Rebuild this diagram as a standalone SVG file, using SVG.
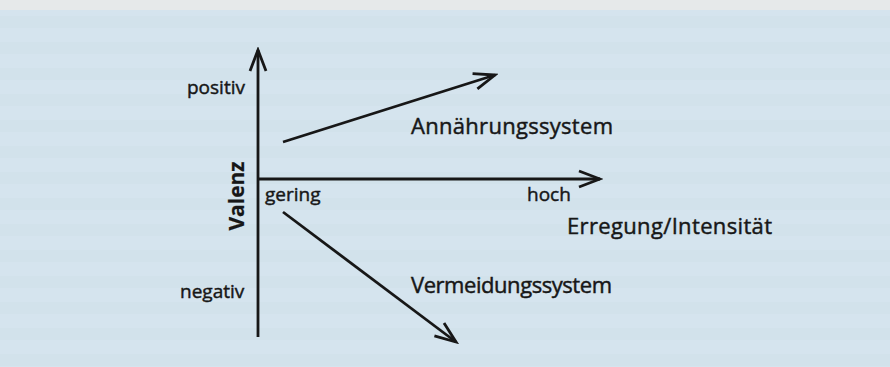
<svg xmlns="http://www.w3.org/2000/svg" width="890" height="367" viewBox="0 0 890 367">
  <defs>
    <style>
      .ax { stroke: #171717; stroke-width: 2.8; fill: none; stroke-linecap: butt; }
      .lbl { font-family: "Open Sans", "Noto Sans", "Liberation Sans", sans-serif; fill: #171717; stroke: #171717; stroke-width: 0.45; }
      .sm { font-size: 19px; }
      .lg { font-size: 22px; }
    </style>
    <pattern id="rows" x="0" y="12" width="890" height="26" patternUnits="userSpaceOnUse">
      <rect x="0" y="4" width="890" height="12" fill="#c9dae5" opacity="0.25"/>
    </pattern>
    <marker id="head" markerUnits="userSpaceOnUse" viewBox="-24 -11 27 22" markerWidth="27" markerHeight="22" refX="0" refY="0" orient="auto">
      <path d="M-21,-8 L0,0 L-21,8" fill="none" stroke="#171717" stroke-width="2.8" stroke-linejoin="miter"/>
    </marker>
  </defs>

  <rect x="0" y="0" width="890" height="367" fill="#d5e4ee"/>
  <rect x="0" y="0" width="890" height="367" fill="url(#rows)"/>
  <rect x="0" y="0" width="890" height="10" fill="#e6e9ea"/>

  <g id="connectors">
    <line class="ax" x1="258" y1="337" x2="258" y2="50" marker-end="url(#head)"/>
    <line class="ax" x1="258" y1="179" x2="600" y2="179" marker-end="url(#head)"/>
    <line class="ax" x1="283" y1="142" x2="495" y2="75" marker-end="url(#head)"/>
    <line class="ax" x1="283" y1="212" x2="456" y2="342" marker-end="url(#head)"/>
  </g>

  <g id="valenz">
    <text class="lbl" font-size="21" style="font-weight:700;stroke-width:0.2" transform="translate(244,196) rotate(-90)" text-anchor="middle">Valenz</text>
  </g>
  <g id="positiv">
    <text class="lbl sm" x="187" y="94">positiv</text>
  </g>
  <g id="negativ">
    <text class="lbl sm" x="180" y="298">negativ</text>
  </g>
  <g id="gering">
    <text class="lbl sm" x="265" y="201">gering</text>
  </g>
  <g id="hoch">
    <text class="lbl sm" x="527" y="201">hoch</text>
  </g>
  <g id="erregung">
    <text class="lbl lg" x="567" y="234" textLength="205" lengthAdjust="spacing">Erregung/Intensität</text>
  </g>
  <g id="annaeherung">
    <text class="lbl lg" x="411" y="134" textLength="202" lengthAdjust="spacing">Annährungssystem</text>
  </g>
  <g id="vermeidung">
    <text class="lbl lg" x="411" y="293" textLength="201" lengthAdjust="spacing">Vermeidungssystem</text>
  </g>
</svg>
